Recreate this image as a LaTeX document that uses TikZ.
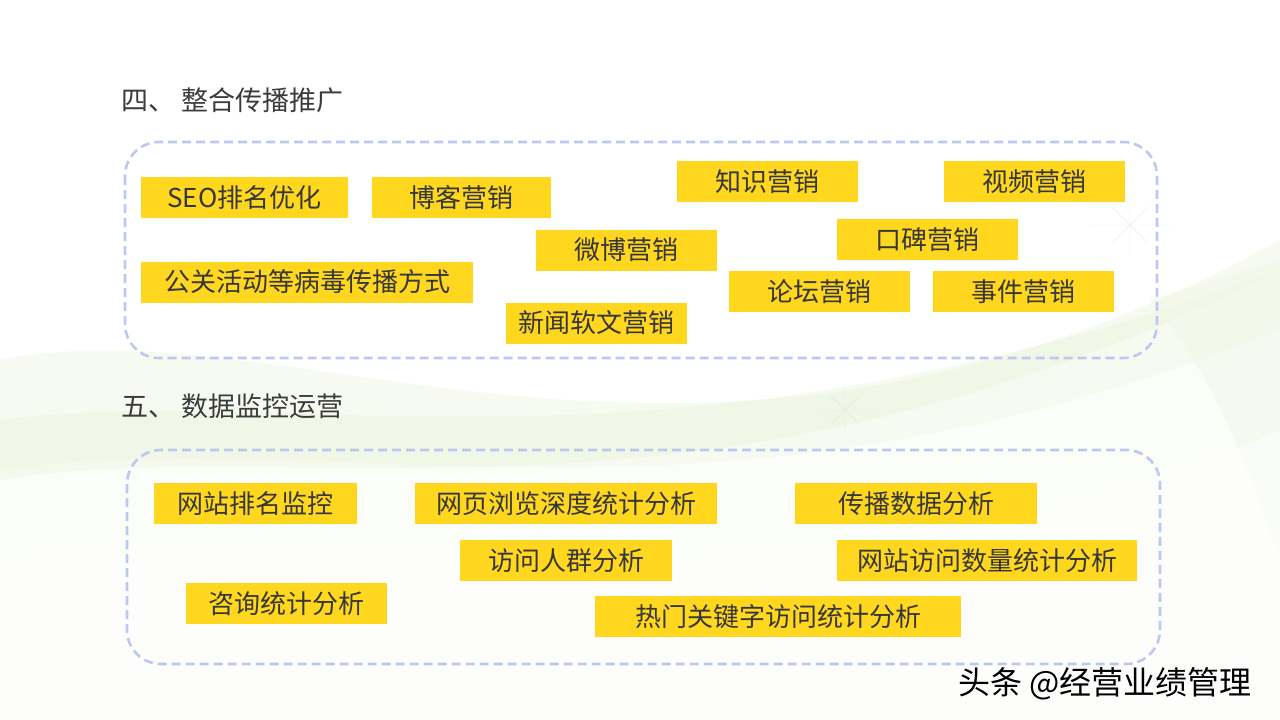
\documentclass[tikz,border=0pt]{standalone}
\usepackage{fontspec}
\newfontfamily\cjk{Noto Sans CJK SC}
\definecolor{yfill}{RGB}{255,215,30}
\definecolor{ytext}{RGB}{55,55,55}
\definecolor{titlec}{RGB}{60,60,60}
\definecolor{dashc}{RGB}{190,200,238}
\definecolor{swa}{RGB}{232,242,212}
\definecolor{swb}{RGB}{242,247,230}
\tikzset{
  ybox/.style={fill=yfill, inner sep=0pt, minimum height=41pt, text=ytext, font=\cjk\fontsize{26}{30}\selectfont},
  ttl/.style={anchor=west, inner sep=0pt, text=titlec, font=\cjk\fontsize{27}{32}\selectfont},
  frame/.style={draw=dashc, line width=2.6pt, dash pattern=on 9pt off 5pt, rounded corners=34pt},
  spark/.style={draw=gray!35, line width=0.4pt, opacity=0.45}
}
\begin{document}
\begin{tikzpicture}[x=1pt,y=-1pt]
\useasboundingbox (0,0) rectangle (1280,720);
\fill[white] (0,0) rectangle (1280,720);
% faint background swooshes
\fill[swb, opacity=0.6] (0,360) .. controls (300,300) and (700,560) .. (1280,240) -- (1280,720) -- (0,720) -- cycle;
\fill[white, opacity=0.6] (0,470) .. controls (350,420) and (700,560) .. (1280,330) -- (1280,720) -- (0,720) -- cycle;
\fill[swa, opacity=0.35] (0,420) .. controls (300,380) and (650,500) .. (1280,270) .. controls (700,560) and (300,430) .. (0,480) -- cycle;
\fill[swb, opacity=0.5] (1150,300) .. controls (1220,380) and (1260,500) .. (1280,560) -- (1280,260) -- cycle;
\fill[white, opacity=0.5] (0,560) .. controls (400,520) and (800,640) .. (1280,430) -- (1280,720) -- (0,720) -- cycle;
% sparkles
\coordinate (s1) at (1130,225);
\coordinate (s2) at (845,410);
\draw[spark] ([xshift=-40pt]s1) -- ([xshift=40pt]s1) ([yshift=-30pt]s1) -- ([yshift=30pt]s1)
  ([shift={(-18pt,-18pt)}]s1) -- ([shift={(18pt,18pt)}]s1) ([shift={(-18pt,18pt)}]s1) -- ([shift={(18pt,-18pt)}]s1);
\draw[spark] ([xshift=-30pt]s2) -- ([xshift=30pt]s2) ([yshift=-25pt]s2) -- ([yshift=25pt]s2)
  ([shift={(-14pt,-14pt)}]s2) -- ([shift={(14pt,14pt)}]s2) ([shift={(-14pt,14pt)}]s2) -- ([shift={(14pt,-14pt)}]s2);
% titles
\node[ttl] (t1) at (121,100) {四、\hspace{6pt}整合传播推广};
\node[ttl] (t2) at (121,406) {五、\hspace{6pt}数据监控运营};
% frames
\draw[frame] (125,142) rectangle (1157,358);
\draw[frame] (127,450) rectangle (1160,664);
% top boxes
\node[ybox, minimum width=207pt] (seo) at (244.5,197.5) {SEO排名优化};
\node[ybox, minimum width=179pt] (boke) at (461.5,197.5) {博客营销};
\node[ybox, minimum width=181pt] (zhishi) at (767.5,181.5) {知识营销};
\node[ybox, minimum width=181pt] (shipin) at (1034.5,181.5) {视频营销};
\node[ybox, minimum width=181pt] (weibo) at (626.5,250) {微博营销};
\node[ybox, minimum width=181pt] (koubei) at (927.5,239.5) {口碑营销};
\node[ybox, minimum width=332pt] (gongguan) at (307,282) {公关活动等病毒传播方式};
\node[ybox, minimum width=181pt] (luntan) at (819.5,291.5) {论坛营销};
\node[ybox, minimum width=181pt] (shijian) at (1023.5,291.5) {事件营销};
\node[ybox, minimum width=181pt] (xinwen) at (596.5,323) {新闻软文营销};
% bottom boxes
\node[ybox, minimum width=203pt] (wzpm) at (255.5,503.5) {网站排名监控};
\node[ybox, minimum width=302pt] (wyll) at (566,503.5) {网页浏览深度统计分析};
\node[ybox, minimum width=242pt] (cbsj) at (916,503.5) {传播数据分析};
\node[ybox, minimum width=212pt] (fwrq) at (566,560.5) {访问人群分析};
\node[ybox, minimum width=300pt] (wzfw) at (987,560.5) {网站访问数量统计分析};
\node[ybox, minimum width=201pt] (zxtj) at (286.5,603.5) {咨询统计分析};
\node[ybox, minimum width=366pt] (rmgj) at (778,616.5) {热门关键字访问统计分析};
% watermark
\node[anchor=west, inner sep=0pt, text=black, font=\cjk\fontsize{32}{36}\selectfont] (wm) at (958,684) {头条 @经营业绩管理};
\end{tikzpicture}
\end{document}
